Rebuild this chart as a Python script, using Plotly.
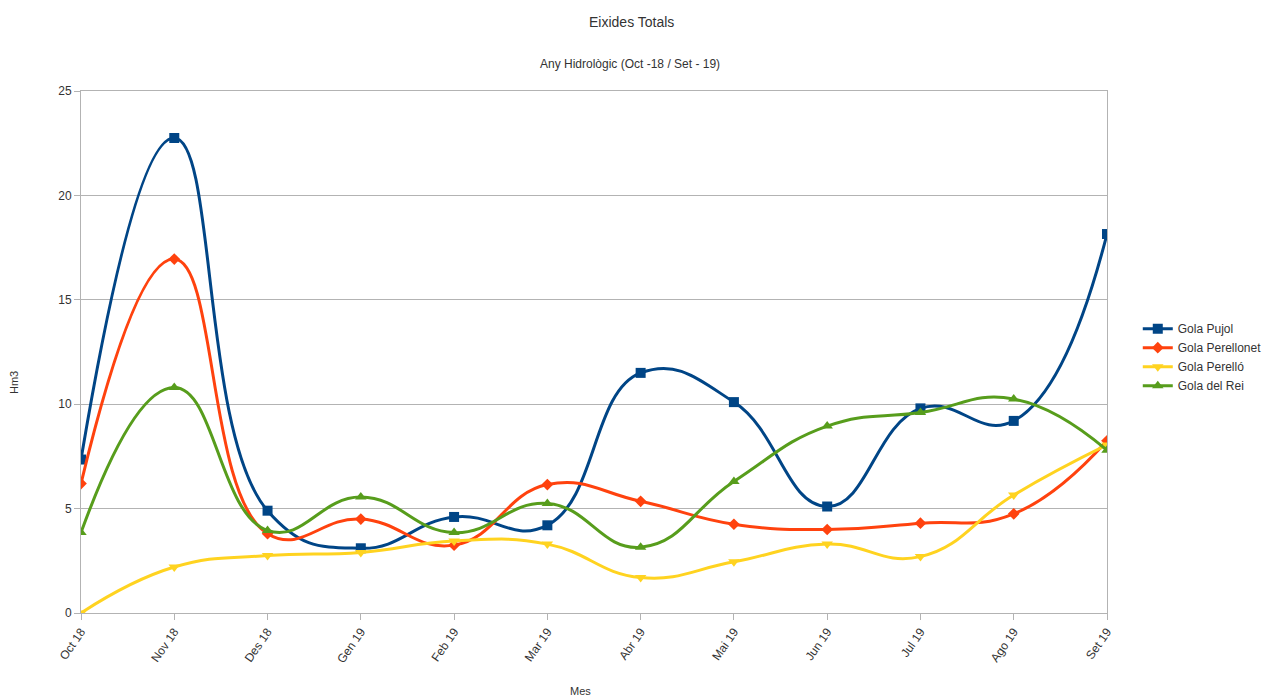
import plotly.graph_objects as go

months = ["Oct 18", "Nov 18", "Des 18", "Gen 19", "Feb 19", "Mar 19",
          "Abr 19", "Mai 19", "Jun 19", "Jul 19", "Ago 19", "Set 19"]

gola_pujol = [7.35, 22.75, 4.9, 3.1, 4.6, 4.2, 11.5, 10.1, 5.1, 9.8, 9.2, 18.15]
gola_perellonet = [6.2, 16.95, 3.8, 4.5, 3.25, 6.15, 5.35, 4.25, 4.0, 4.3, 4.75, 8.25]
gola_perello = [0.0, 2.2, 2.75, 2.9, 3.45, 3.3, 1.7, 2.45, 3.3, 2.7, 5.65, 8.05]
gola_del_rei = [3.85, 10.8, 3.95, 5.55, 3.85, 5.25, 3.15, 6.3, 8.95, 9.6, 10.25, 7.8]

series = [
    ("Gola Pujol", gola_pujol, "#004586", "square", 10),
    ("Gola Perellonet", gola_perellonet, "#ff420e", "diamond", 9),
    ("Gola Perelló", gola_perello, "#ffd320", "triangle-down", 10),
    ("Gola del Rei", gola_del_rei, "#579d1c", "triangle-up", 10),
]

fig = go.Figure()
for name, vals, color, sym, sz in series:
    fig.add_trace(go.Scatter(
        x=months, y=vals, name=name, mode="lines+markers",
        line=dict(color=color, width=3, shape="spline", smoothing=1.3),
        marker=dict(symbol=sym, size=sz, color=color),
    ))

font = "Liberation Sans, Arial, sans-serif"
# page body has an 8px default margin; figure is sized to fit inside it
fig.update_layout(
    width=1262, height=692,
    margin=dict(l=73, r=163, t=83, b=87, autoexpand=False),
    paper_bgcolor="white", plot_bgcolor="white",
    font=dict(family=font, size=11, color="#333333"),
    showlegend=True,
    legend=dict(x=1.03, y=0.49, xanchor="left", yanchor="middle",
                font=dict(size=12, color="#333333"), itemwidth=30,
                tracegroupgap=0),
    annotations=[
        dict(text="Eixides Totals", x=0.5, y=(613 - 22) / 522,
             xref="paper", yref="paper", xanchor="center", yanchor="middle",
             showarrow=False, font=dict(size=14, color="#333333"),
             xshift=631 - 594),
        dict(text="Any Hidrològic (Oct -18 / Set - 19)", x=0.5, y=(613 - 64) / 522,
             xref="paper", yref="paper", xanchor="center", yanchor="middle",
             showarrow=False, font=dict(size=12, color="#333333"),
             xshift=630 - 594),
        dict(text="Mes", x=0.5, y=(613 - 691) / 522,
             xref="paper", yref="paper", xanchor="center", yanchor="middle",
             showarrow=False, font=dict(size=11, color="#333333"),
             xshift=580 - 594),
        dict(text="Hm3", x=(14 - 81) / 1026, y=(613 - 383) / 522,
             xref="paper", yref="paper", xanchor="center", yanchor="middle",
             showarrow=False, textangle=-90, font=dict(size=11, color="#333333")),
    ],
)
fig.update_xaxes(
    type="category", range=[0, 11], tickangle=-55, automargin=False,
    showgrid=False, showline=True, mirror=True, linecolor="#b3b3b3",
    ticks="outside", ticklen=6, tickcolor="#b3b3b3",
    tickfont=dict(size=12, color="#333333"),
)
fig.update_yaxes(
    range=[0, 25], dtick=5, showgrid=True, gridcolor="#b3b3b3", automargin=False,
    showline=True, mirror=True, linecolor="#b3b3b3", zeroline=False,
    ticks="outside", ticklen=6, tickcolor="#b3b3b3",
    tickfont=dict(size=12, color="#333333"),
)
fig.write_html("out.html")
